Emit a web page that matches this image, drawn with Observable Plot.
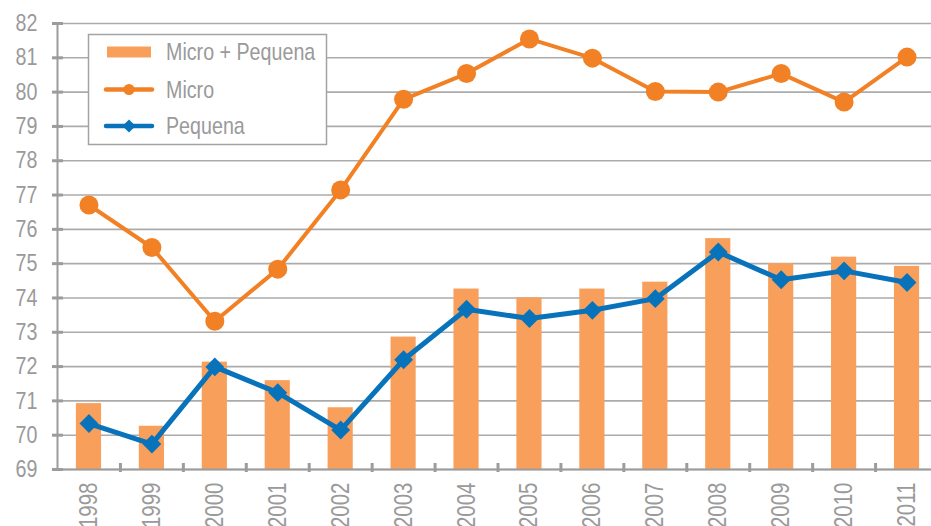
<!DOCTYPE html>
<html>
<head>
<meta charset="utf-8">
<script src="https://cdn.jsdelivr.net/npm/d3@7"></script>
<script src="https://cdn.jsdelivr.net/npm/@observablehq/plot@0.6"></script>
<style>
  html, body { margin: 0; padding: 0; background: #fff; }
  #wrap { position: relative; width: 931px; height: 526px; overflow: hidden; }
  #chart svg { max-width: none !important; }
  #legend { position: absolute; left: 0; top: 0; }
</style>
</head>
<body>
<div id="wrap"><div id="chart"></div></div>
<script>
// ---- data ----
const years = ["1998","1999","2000","2001","2002","2003","2004","2005","2006","2007","2008","2009","2010","2011"];
const microPequena = [70.92, 70.26, 72.13, 71.59, 70.80, 72.86, 74.26, 74.00, 74.26, 74.46, 75.73, 75.00, 75.19, 74.92];
const micro        = [76.71, 75.47, 73.32, 74.84, 77.15, 79.79, 80.54, 81.55, 80.99, 80.02, 80.00, 80.54, 79.71, 81.02];
const pequena      = [70.34, 69.74, 71.99, 71.24, 70.15, 72.20, 73.67, 73.40, 73.64, 73.98, 75.34, 74.53, 74.79, 74.45];
const yTicks = [69, 70, 71, 72, 73, 74, 75, 76, 77, 78, 79, 80, 81, 82];
const seriesNames = ["Micro + Pequena", "Micro", "Pequena"];

const table = years.map((year, i) => ({year, mp: microPequena[i], micro: micro[i], pequena: pequena[i]}));

// ---- styling ----
const barColor = "#F8A05B";
const microColor = "#F28024";
const pequenaColor = "#0873BA";
const gridColor = "#ababab";
const axisColor = "#9c9c9c";
const textColor = "#9a9a9a";
const sans = "'Liberation Sans', Arial, sans-serif";
const NARROW = 0.82; // horizontal compression to mimic a condensed face

const W = 938, H = 526, ML = 57, MR = 0, MT = 23, MB = 57;
const step = (W - ML - MR) / years.length;

const chart = Plot.plot({
  width: W, height: H,
  marginLeft: ML, marginRight: MR, marginTop: MT, marginBottom: MB,
  style: {fontFamily: sans, background: "#fff", color: textColor, overflow: "visible", maxWidth: "none"},
  x: {type: "band", domain: years, paddingInner: 0.6, paddingOuter: 0.3, round: false, label: null},
  y: {domain: [yTicks[0], yTicks[yTicks.length - 1]], label: null},
  marks: [
    Plot.gridY(yTicks, {stroke: gridColor, strokeOpacity: 1, strokeWidth: 1.6}),
    Plot.barY(table, {x: "year", y1: yTicks[0], y2: "mp", fill: barColor}),
    Plot.ruleY([yTicks[0]], {stroke: axisColor, strokeWidth: 2}),
    Plot.frame({anchor: "left", stroke: axisColor, strokeWidth: 2}),
    Plot.ruleX(years.slice(0, -1), {x: d => d, dx: step / 2, y1: yTicks[0], y2: yTicks[0], insetTop: -6, insetBottom: -3, stroke: axisColor, strokeWidth: 3}),
    Plot.axisY(yTicks, {tickSize: 11, dx: 6, tickPadding: 15, fontSize: 24, stroke: axisColor, strokeWidth: 3, fill: textColor}),
    Plot.axisX({tickSize: 0, tickRotate: -90, tickPadding: 13, fontSize: 25, fill: textColor}),
    Plot.line(table, {x: "year", y: "micro", stroke: microColor, strokeWidth: 4}),
    Plot.dot(table, {x: "year", y: "micro", r: 9.5, fill: microColor, stroke: null}),
    Plot.line(table, {x: "year", y: "pequena", stroke: pequenaColor, strokeWidth: 5}),
    Plot.dot(table, {x: "year", y: "pequena", r: 8.5, symbol: "diamond2", fill: pequenaColor, stroke: null})
  ]
});
chart.style.maxWidth = "none";
// condense tick labels about their anchor (mimics the condensed face of the original)
d3.select(chart).selectAll("text").each(function () {
  if (this.closest("g[aria-label='y-axis tick label'], g[aria-label='x-axis tick label']")) {
    const t = this.getAttribute("transform") || "";
    this.setAttribute("transform", t + ` scale(${NARROW},1)`);
  }
});
document.getElementById("chart").appendChild(chart);

// ---- legend (inside plot area) ----
const lg = d3.create("svg").attr("id", "legend").attr("width", 931).attr("height", 526)
  .style("font-family", sans);
lg.append("rect").attr("x", 88.5).attr("y", 34.5).attr("width", 238).attr("height", 110)
  .attr("fill", "#fff").attr("stroke", "#a3a3a3").attr("stroke-width", 1.5);
const rowY = [52, 89.5, 126];
const sx1 = 106, sx2 = 152, sxm = 129;
lg.append("rect").attr("x", sx1 + 1).attr("y", rowY[0] - 5.5).attr("width", sx2 - sx1 - 2).attr("height", 11).attr("fill", barColor);
lg.append("line").attr("x1", sx1).attr("x2", sx2).attr("y1", rowY[1]).attr("y2", rowY[1])
  .attr("stroke", microColor).attr("stroke-width", 4.5).attr("stroke-linecap", "round");
lg.append("circle").attr("cx", sxm).attr("cy", rowY[1]).attr("r", 5.5).attr("fill", microColor);
lg.append("line").attr("x1", sx1).attr("x2", sx2).attr("y1", rowY[2]).attr("y2", rowY[2])
  .attr("stroke", pequenaColor).attr("stroke-width", 4.5).attr("stroke-linecap", "round");
lg.append("path").attr("d", d3.symbol(d3.symbolDiamond2, 110)()).attr("transform", `translate(${sxm},${rowY[2]})`).attr("fill", pequenaColor);
seriesNames.forEach((name, i) => {
  lg.append("text").attr("transform", `translate(166,${rowY[i]}) scale(${NARROW},1)`).attr("dy", "0.35em")
    .attr("font-size", 24).attr("fill", textColor).text(name);
});
document.getElementById("wrap").appendChild(lg.node());
</script>
</body>
</html>
